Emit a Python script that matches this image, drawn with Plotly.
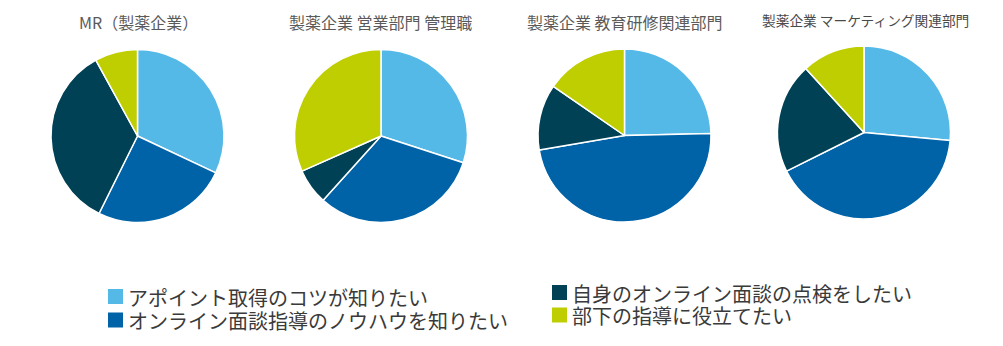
import plotly.graph_objects as go

# Survey answers per respondent group (counts)
categories = [
    "アポイント取得のコツが知りたい",
    "オンライン面談指導のノウハウを知りたい",
    "自身のオンライン面談の点検をしたい",
    "部下の指導に役立てたい",
]
groups = [
    "MR（製薬企業）",
    "製薬企業 営業部門 管理職",
    "製薬企業 教育研修関連部門",
    "製薬企業 マーケティング関連部門",
]
mr_values = [24, 19, 26, 6]
sales_mgr_values = [18, 19, 4, 19]
training_values = [16, 31, 8, 10]
marketing_values = [9, 14, 7, 4]

colors = ["#55B9E8", "#0063A7", "#004155", "#BFCE00"]

W, H = 1003, 346
FONT = "Noto Sans CJK JP"

# pie centres / radius in pixels
centers = [(137.5, 136), (381, 136), (624.5, 135.5), (864, 132.5)]
radius = 86.5
title_pos = [(138.5, 22), (380, 22), (624.5, 22), (865.5, 20)]
title_sizes = [16, 16, 16, 13.7]
title_colors = ["#5a5a5a", "#5a5a5a", "#5a5a5a", "#4a4a4a"]

fig = go.Figure()
for name, vals, (cx, cy) in zip(groups, [mr_values, sales_mgr_values, training_values, marketing_values], centers):
    fig.add_trace(go.Pie(
        labels=categories,
        values=vals,
        name=name,
        sort=False,
        direction="clockwise",
        rotation=0,
        textinfo="none",
        hoverinfo="label+percent",
        marker=dict(colors=colors, line=dict(color="white", width=1.5)),
        domain=dict(
            x=[(cx - radius) / W, (cx + radius) / W],
            y=[(H - cy - radius) / H, (H - cy + radius) / H],
        ),
        showlegend=False,
    ))

annotations = []
for name, (tx, ty), fs, tc in zip(groups, title_pos, title_sizes, title_colors):
    annotations.append(dict(
        x=tx / W, y=1 - ty / H, xref="paper", yref="paper",
        text=name, showarrow=False, xanchor="center", yanchor="middle",
        font=dict(family=FONT, size=fs, color=tc),
    ))

# legend laid out in two columns
legend_pos = [(108, 296.5), (108, 320), (552, 292.5), (552, 315)]
shapes = []
for label, col, (lx, ly) in zip(categories, colors, legend_pos):
    shapes.append(dict(
        type="rect", xref="paper", yref="paper",
        x0=lx / W, x1=(lx + 15) / W,
        y0=1 - (ly + 7.5) / H, y1=1 - (ly - 7.5) / H,
        fillcolor=col, line=dict(width=0),
    ))
    annotations.append(dict(
        x=(lx + 18) / W, y=1 - ly / H, xref="paper", yref="paper",
        text=label, showarrow=False, xanchor="left", yanchor="middle",
        height=22, valign="middle",
        font=dict(family=FONT, size=20, color="#3a3a3a"),
    ))

fig.update_layout(
    width=W, height=H,
    margin=dict(l=0, r=0, t=0, b=0),
    paper_bgcolor="white",
    plot_bgcolor="white",
    annotations=annotations,
    shapes=shapes,
)

fig.write_html("out.html")
